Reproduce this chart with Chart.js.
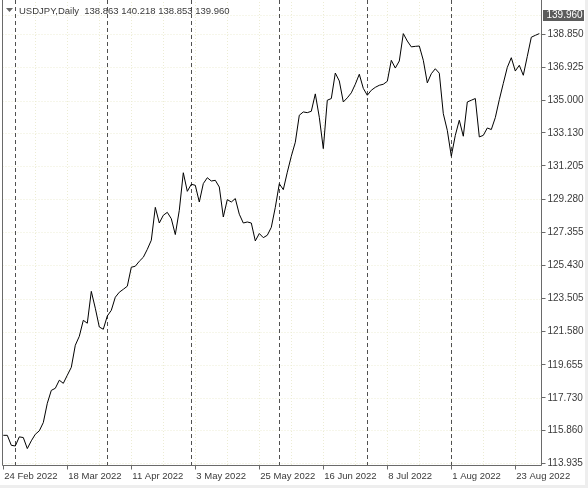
<!DOCTYPE html>
<html><head><meta charset="utf-8">
<script src="https://cdn.jsdelivr.net/npm/chart.js@4"></script>
<style>html,body{margin:0;padding:0;background:#fff;overflow:hidden}#wrap{width:588px;height:488px;position:relative}</style>
</head><body><div id="wrap"><canvas id="c" width="588" height="488"></canvas></div>
<script>
const symbolTitle = 'USDJPY,Daily';
const lastBarOHLC = [138.863, 140.218, 138.853, 139.960];
const firstDate = '2022-02-24';
const closes = [
115.56,115.56,114.98,114.94,115.47,115.43,114.79,115.24,115.62,115.82,
116.30,117.42,118.17,118.29,118.76,118.58,119.05,119.51,120.79,121.31,
122.24,122.07,123.92,122.94,121.85,121.72,122.49,122.82,123.58,123.87,
124.04,124.22,125.32,125.38,125.67,125.90,126.36,126.89,128.80,127.89,
128.34,128.51,128.14,127.22,128.63,130.81,129.73,130.14,130.08,129.11,
130.18,130.52,130.33,130.37,129.98,128.24,129.25,129.11,129.31,128.40,
127.89,127.95,127.89,126.85,127.28,127.04,127.18,127.64,128.80,130.17,
129.83,130.84,131.77,132.58,134.15,134.34,134.30,134.38,135.39,134.03,
132.21,135.02,135.12,136.60,136.14,134.92,135.16,135.45,135.95,136.53,
135.71,135.31,135.60,135.77,135.89,135.95,136.12,137.34,136.89,137.30,
138.89,138.46,138.12,138.15,138.17,137.34,136.03,136.56,136.85,136.59,
134.24,133.27,131.77,132.98,133.86,132.93,134.92,135.02,135.12,132.89,
132.98,133.41,133.32,134.01,135.05,136.00,136.93,137.49,136.72,137.05,
136.47,137.57,138.68,138.79,138.89
];
const priceTicks = [113.935,115.860,117.730,119.655,121.580,123.505,125.430,127.355,129.280,131.205,133.130,135.000,136.925,138.850];
const dateTickLabels = ['24 Feb 2022','18 Mar 2022','11 Apr 2022','3 May 2022','25 May 2022','16 Jun 2022','8 Jul 2022','1 Aug 2022','23 Aug 2022'];
const gridStepBars = 8;

const MONTHS = ['Jan','Feb','Mar','Apr','May','Jun','Jul','Aug','Sep','Oct','Nov','Dec'];
const fmt = d => d.getUTCDate() + ' ' + MONTHS[d.getUTCMonth()] + ' ' + d.getUTCFullYear();
const dates = [];
{ const d = new Date(firstDate + 'T00:00:00Z');
  while (dates.length < closes.length) { const w = d.getUTCDay(); if (w !== 0 && w !== 6) dates.push(new Date(d)); d.setUTCDate(d.getUTCDate() + 1); } }
const tickIdx = dateTickLabels.map(s => dates.findIndex(x => fmt(x) === s));
const sepIdx = dates.map((x, i) => (i > 0 && x.getUTCMonth() !== dates[i - 1].getUTCMonth()) ? i : -1).filter(i => i >= 0);

const AXIS = '#6a6a6a', TXT = '#3a3a3a';
const overlay = {
  id: 'overlay',
  beforeDatasetsDraw(chart) {
    const { ctx, chartArea: a, scales: { x, y } } = chart;
    ctx.save();
    ctx.strokeStyle = '#ececd4'; ctx.lineWidth = 1; ctx.setLineDash([1, 2]);
    for (const v of priceTicks) { const py = Math.round(y.getPixelForValue(v)) + 0.5; if (py < a.bottom - 1) { ctx.beginPath(); ctx.moveTo(a.left, py); ctx.lineTo(a.right, py); ctx.stroke(); } }
    for (let i = gridStepBars; i < closes.length; i += gridStepBars) { const px = Math.round(x.getPixelForValue(i)) + 0.5; ctx.beginPath(); ctx.moveTo(px, a.top); ctx.lineTo(px, a.bottom); ctx.stroke(); }
    const by = Math.round(y.getPixelForValue(lastBarOHLC[3])) + 0.5;
    ctx.beginPath(); ctx.moveTo(a.left, by); ctx.lineTo(a.right, by); ctx.stroke();
    ctx.strokeStyle = '#505050'; ctx.setLineDash([4, 3]);
    for (const i of sepIdx) { const px = Math.round(x.getPixelForValue(i)) + 0.5; ctx.beginPath(); ctx.moveTo(px, 0); ctx.lineTo(px, a.bottom); ctx.stroke(); }
    ctx.restore();
  },
  afterDraw(chart) {
    const { ctx, chartArea: a, scales: { y } } = chart;
    ctx.save();
    ctx.strokeStyle = AXIS; ctx.lineWidth = 1;
    ctx.beginPath();
    ctx.moveTo(a.left, 0); ctx.lineTo(a.left, a.bottom); ctx.lineTo(a.right, a.bottom); ctx.lineTo(a.right, 0);
    ctx.stroke();
    ctx.fillStyle = '#666';
    ctx.beginPath(); ctx.moveTo(6, 8); ctx.lineTo(13, 8); ctx.lineTo(9.5, 12); ctx.closePath(); ctx.fill();
    ctx.fillStyle = TXT; ctx.font = '9.5px "Liberation Sans", Arial, sans-serif'; ctx.textBaseline = 'middle'; ctx.textAlign = 'left';
    ctx.fillText(symbolTitle + '  ' + lastBarOHLC.map(v => v.toFixed(3)).join(' '), 19, 11);
    const py = y.getPixelForValue(lastBarOHLC[3]);
    ctx.fillStyle = '#5c5c5c'; ctx.fillRect(543, Math.round(py) - 5, 41, 11);
    ctx.fillStyle = '#fff'; ctx.font = '10px "Liberation Sans", Arial, sans-serif';
    ctx.fillText(lastBarOHLC[3].toFixed(3), 546.5, Math.round(py) + 0.5);
    ctx.fillStyle = '#eeeeee'; ctx.fillRect(0, 485, 588, 3); ctx.fillRect(585, 0, 3, 488);
    ctx.restore();
  }
};

new Chart(document.getElementById('c'), {
  type: 'line',
  data: { datasets: [{ data: closes.map((v, i) => ({ x: i, y: v })), borderColor: '#000', borderWidth: 1, pointRadius: 0, tension: 0, fill: false }] },
  options: {
    responsive: false, animation: false, events: [],
    layout: { padding: { left: 2.5, top: 2, right: 0, bottom: 0 } },
    plugins: { legend: { display: false }, tooltip: { enabled: false } },
    scales: {
      x: {
        type: 'linear', position: 'bottom', min: -0.2, max: closes.length - 1 + 0.55,
        afterBuildTicks: s => { s.ticks = tickIdx.map(v => ({ value: v })); },
        afterFit: s => { s.height = 22.5; s.paddingLeft = 0; },
        ticks: { callback: (v, i) => dateTickLabels[i], autoSkip: false, maxRotation: 0, minRotation: 0, align: 'start', labelOffset: 1, padding: 1, color: TXT, font: { family: '"Liberation Sans", Arial, sans-serif', size: 9.5 } },
        grid: { drawOnChartArea: false, drawTicks: true, tickLength: 4, tickColor: AXIS },
        border: { display: false }
      },
      y: {
        type: 'linear', position: 'right', min: 113.807, max: 140.726,
        afterBuildTicks: s => { s.ticks = priceTicks.map(v => ({ value: v })); },
        afterFit: s => { s.width = 46.5; s.paddingTop = 0; s.paddingBottom = 0; },
        ticks: { callback: v => Number(v).toFixed(3), padding: 2, color: TXT, font: { family: '"Liberation Sans", Arial, sans-serif', size: 10 } },
        grid: { drawOnChartArea: false, drawTicks: true, tickLength: 4, tickColor: AXIS },
        border: { display: false }
      }
    }
  },
  plugins: [overlay]
});
</script></body></html>
